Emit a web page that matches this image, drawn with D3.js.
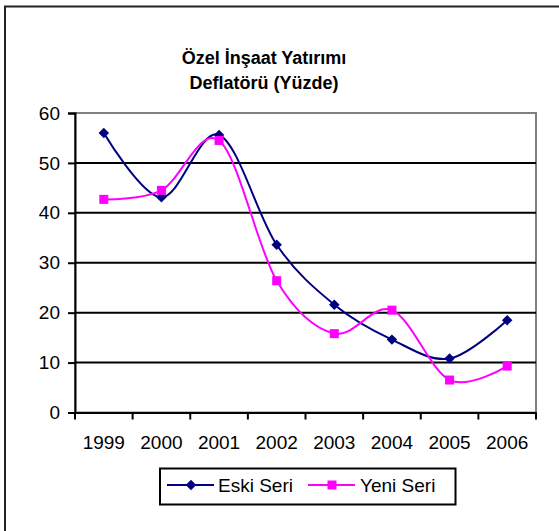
<!DOCTYPE html>
<html><head><meta charset="utf-8">
<script src="https://cdn.jsdelivr.net/npm/d3@7"></script>
<style>body{margin:0;background:#fff}svg{display:block;font-family:"Liberation Sans",Arial,sans-serif}</style>
</head><body>
<script>
const years = ["1999","2000","2001","2002","2003","2004","2005","2006"];
const eskiSeri = [56, 43.1, 55.6, 33.6, 21.6, 14.6, 10.8, 18.5];
const yeniSeri = [42.7, 44.5, 54.5, 26.4, 15.8, 20.5, 6.5, 9.3];
const yTicks = [0, 10, 20, 30, 40, 50, 60];
const titleLines = ["Özel İnşaat Yatırımı", "Deflatörü (Yüzde)"];
const seriesNames = ["Eski Seri", "Yeni Seri"];

const W = 559, H = 531;
const FS = 19;
const svg = d3.select("body").append("svg").attr("width", W).attr("height", H);

// outer frame
svg.append("rect").attr("x", 5).attr("y", 6.5).attr("width", 700).attr("height", 700)
  .attr("fill", "none").attr("stroke", "#222").attr("stroke-width", 2);

const L = 75, R = 536, T = 113, B = 412.5;
const x = d3.scaleBand().domain(years).range([L, R]);
const y = d3.scaleLinear().domain([0, 60]).range([B, T]);

// title
svg.append("text").attr("x", 264).attr("y", 64).attr("text-anchor", "middle")
  .attr("font-size", 18).attr("font-weight", "bold").text(titleLines[0]);
svg.append("text").attr("x", 264).attr("y", 89).attr("text-anchor", "middle")
  .attr("font-size", 18).attr("font-weight", "bold").text(titleLines[1]);

// plot area border (gray top/right)
svg.append("rect").attr("x", L).attr("y", T).attr("width", R - L).attr("height", B - T)
  .attr("fill", "none").attr("stroke", "#808080").attr("stroke-width", 2);

// gridlines
svg.append("g").selectAll("line").data(yTicks.filter(d => d > 0 && d < 60)).join("line")
  .attr("x1", L).attr("x2", R).attr("y1", d => y(d)).attr("y2", d => y(d))
  .attr("stroke", "#000").attr("stroke-width", 2);

// y axis
const yAxis = svg.append("g").attr("transform", `translate(${L},0)`)
  .call(d3.axisLeft(y).tickValues(yTicks).tickSize(7).tickPadding(8).tickFormat(d3.format("d")));
yAxis.attr("font-size", FS).attr("font-family", "Liberation Sans, Arial, sans-serif");
yAxis.select(".domain").attr("stroke", "#000").attr("stroke-width", 2);
yAxis.selectAll(".tick line").attr("stroke", "#000").attr("stroke-width", 2);
yAxis.selectAll("text").attr("fill", "#000");

// x axis
const xAxis = svg.append("g").attr("transform", `translate(0,${B})`)
  .call(d3.axisBottom(x).tickSize(0).tickPadding(23));
xAxis.attr("font-size", FS).attr("font-family", "Liberation Sans, Arial, sans-serif");
xAxis.select(".domain").attr("stroke", "#000").attr("stroke-width", 2);
xAxis.selectAll("text").attr("fill", "#000");
const edges = years.map(d => x(d)).concat([R]);
svg.append("g").selectAll("line").data(edges).join("line")
  .attr("x1", d => d).attr("x2", d => d).attr("y1", B).attr("y2", B + 7)
  .attr("stroke", "#000").attr("stroke-width", 2);

const cx = d => x(d) + x.bandwidth() / 2;
const line = d3.line().x((d, i) => cx(years[i])).y(d => y(d)).curve(d3.curveCardinal.tension(0));

const navy = "#000080", mag = "#FF00FF";
svg.append("path").datum(eskiSeri).attr("d", line).attr("fill", "none").attr("stroke", navy).attr("stroke-width", 2);
svg.append("path").datum(yeniSeri).attr("d", line).attr("fill", "none").attr("stroke", mag).attr("stroke-width", 2);

const diamond = d3.symbol().type(d3.symbolDiamond2).size(70);
svg.append("g").selectAll("path").data(eskiSeri).join("path")
  .attr("d", diamond).attr("transform", (d, i) => `translate(${cx(years[i])},${y(d)})`).attr("fill", navy);
svg.append("g").selectAll("rect").data(yeniSeri).join("rect")
  .attr("x", (d, i) => cx(years[i]) - 4.5).attr("y", d => y(d) - 4.5)
  .attr("width", 9).attr("height", 9).attr("fill", mag);

// legend
svg.append("rect").attr("x", 160).attr("y", 468.5).attr("width", 295.5).attr("height", 36)
  .attr("fill", "#fff").attr("stroke", "#000").attr("stroke-width", 2);
const ly = 485;
svg.append("line").attr("x1", 167).attr("x2", 214).attr("y1", ly).attr("y2", ly).attr("stroke", navy).attr("stroke-width", 2);
svg.append("path").attr("d", diamond).attr("transform", `translate(191,${ly})`).attr("fill", navy);
svg.append("text").attr("x", 218).attr("y", ly + 6.5).attr("font-size", FS).text(seriesNames[0]);
svg.append("line").attr("x1", 308).attr("x2", 355).attr("y1", ly).attr("y2", ly).attr("stroke", mag).attr("stroke-width", 2);
svg.append("rect").attr("x", 327.5).attr("y", ly - 4.5).attr("width", 9).attr("height", 9).attr("fill", mag);
svg.append("text").attr("x", 360).attr("y", ly + 6.5).attr("font-size", FS).text(seriesNames[1]);
</script>
</body></html>
